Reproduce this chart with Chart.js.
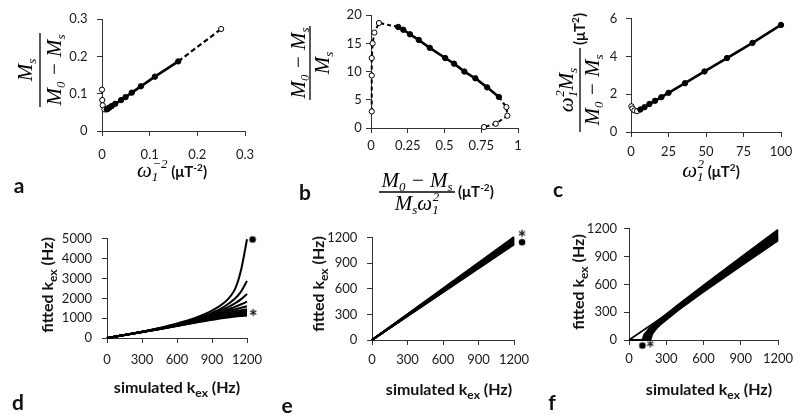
<!DOCTYPE html>
<html><head><meta charset="utf-8">
<script src="https://cdn.jsdelivr.net/npm/chart.js@4"></script>
<style>
html,body{margin:0;padding:0;background:#fff;width:800px;height:417px;overflow:hidden}
body{position:relative}
canvas{position:absolute}
svg{position:absolute;left:0;top:0}
.m{font-family:'Liberation Serif',serif;font-style:italic;font-size:21px;fill:#000}
.ms{font-family:'Liberation Serif',serif;font-style:italic;font-size:13px}
.bs{font-family:Lato,sans-serif;font-weight:bold;font-size:15px;fill:#111}
.bt{font-family:Lato,sans-serif;font-weight:bold;font-size:16px;fill:#111}
.lt{font-family:Lato,sans-serif;font-weight:bold;font-size:21px;fill:#111}
</style></head><body>
<canvas id="ca"></canvas><canvas id="cb"></canvas><canvas id="cc"></canvas>
<canvas id="cd"></canvas><canvas id="ce"></canvas><canvas id="cf"></canvas>
<svg width="800" height="417" viewBox="0 0 800 417">
  <!-- panel letters -->
  <text class="lt" x="19" y="193" text-anchor="middle">a</text>
  <text class="lt" x="305" y="200" text-anchor="middle">b</text>
  <text class="lt" x="558" y="197" text-anchor="middle">c</text>
  <text class="lt" x="18" y="410" text-anchor="middle">d</text>
  <text class="lt" x="287" y="413" text-anchor="middle">e</text>
  <text class="lt" x="552" y="410" text-anchor="middle">f</text>

  <!-- a y title -->
  <g transform="translate(40,70) rotate(-90)">
    <text class="m" x="0" y="-8" text-anchor="middle">M<tspan class="ms" dy="4">s</tspan></text>
    <line x1="-37" x2="37" y1="0" y2="0" stroke="#000" stroke-width="1.3"/>
    <text class="m" x="0" y="21" text-anchor="middle">M<tspan class="ms" dy="4">0</tspan><tspan dy="-4"> − M</tspan><tspan class="ms" dy="4">s</tspan></text>
  </g>
  <!-- a x title -->
  <text x="172" y="177" text-anchor="middle"><tspan class="m">ω</tspan><tspan class="ms" dy="4">1</tspan><tspan class="ms" dx="-6" dy="-13">−2</tspan><tspan class="bs" dy="9"> (μT</tspan><tspan class="bs" style="font-size:10px" dy="-6">-2</tspan><tspan class="bs" dy="6">)</tspan></text>

  <!-- b y title -->
  <g transform="translate(310,63) rotate(-90)">
    <text class="m" x="0" y="-5" text-anchor="middle">M<tspan class="ms" dy="4">0</tspan><tspan dy="-4"> − M</tspan><tspan class="ms" dy="4">s</tspan></text>
    <line x1="-37" x2="37" y1="0" y2="0" stroke="#000" stroke-width="1.3"/>
    <text class="m" x="0" y="19" text-anchor="middle">M<tspan class="ms" dy="4">s</tspan></text>
  </g>
  <!-- b x title -->
  <text class="m" x="417" y="187" text-anchor="middle">M<tspan class="ms" dy="4">0</tspan><tspan dy="-4"> − M</tspan><tspan class="ms" dy="4">s</tspan></text>
  <line x1="379" x2="455" y1="192" y2="192" stroke="#000" stroke-width="1.3"/>
  <text class="m" x="417" y="210" text-anchor="middle">M<tspan class="ms" dy="4">s</tspan><tspan dy="-4">ω</tspan><tspan class="ms" dy="4">1</tspan><tspan class="ms" dx="-6" dy="-13">2</tspan></text>
  <text x="458" y="197"><tspan class="bs">(μT</tspan><tspan class="bs" style="font-size:10px" dy="-6">-2</tspan><tspan class="bs" dy="6">)</tspan></text>

  <!-- c y title -->
  <g transform="translate(580,74) rotate(-90)">
    <text class="m" x="-16" y="-7" text-anchor="middle">ω<tspan class="ms" dy="4">1</tspan><tspan class="ms" dx="-6" dy="-13">2</tspan><tspan dy="9">M</tspan><tspan class="ms" dy="4">s</tspan></text>
    <line x1="-58" x2="26" y1="0" y2="0" stroke="#000" stroke-width="1.3"/>
    <text class="m" x="-16" y="19" text-anchor="middle">M<tspan class="ms" dy="4">0</tspan><tspan dy="-4"> − M</tspan><tspan class="ms" dy="4">s</tspan></text>
    <text x="45" y="5" text-anchor="middle"><tspan class="bs">(μT</tspan><tspan class="bs" style="font-size:10px" dy="-6">2</tspan><tspan class="bs" dy="6">)</tspan></text>
  </g>
  <!-- c x title -->
  <text x="711" y="177" text-anchor="middle"><tspan class="m">ω</tspan><tspan class="ms" dy="4">1</tspan><tspan class="ms" dx="-6" dy="-13">2</tspan><tspan class="bs" dy="9"> (μT</tspan><tspan class="bs" style="font-size:10px" dy="-6">2</tspan><tspan class="bs" dy="6">)</tspan></text>

  <!-- bottom row titles -->
  <text class="bt" x="177" y="393" text-anchor="middle">simulated k<tspan style="font-size:12px" dy="4">ex</tspan><tspan dy="-4"> (Hz)</tspan></text>
  <text class="bt" x="449" y="395" text-anchor="middle">simulated k<tspan style="font-size:12px" dy="4">ex</tspan><tspan dy="-4"> (Hz)</tspan></text>
  <text class="bt" x="709" y="395" text-anchor="middle">simulated k<tspan style="font-size:12px" dy="4">ex</tspan><tspan dy="-4"> (Hz)</tspan></text>
  <text class="bt" transform="translate(53,285) rotate(-90)" text-anchor="middle">fitted k<tspan style="font-size:12px" dy="4">ex</tspan><tspan dy="-4"> (Hz)</tspan></text>
  <text class="bt" transform="translate(324,284) rotate(-90)" text-anchor="middle">fitted k<tspan style="font-size:12px" dy="4">ex</tspan><tspan dy="-4"> (Hz)</tspan></text>
  <text class="bt" transform="translate(584,282) rotate(-90)" text-anchor="middle">fitted k<tspan style="font-size:12px" dy="4">ex</tspan><tspan dy="-4"> (Hz)</tspan></text>
</svg>
<script>
// ---------- DATA ----------
// panel a : Ms/(M0-Ms) vs omega1^-2
const aXTicks = [0, 0.1, 0.2, 0.3], aXLabels = ['0', '0.1', '0.2', '0.3'];
const aYTicks = [0, 0.1, 0.2, 0.3], aYLabels = ['0', '0.1', '0.2', '0.3'];
const aFillX = [0.01, 0.0123, 0.0156, 0.0204, 0.0278, 0.04, 0.0494, 0.0625, 0.0816, 0.111, 0.16];
const aFillY = [0.058, 0.060, 0.063, 0.067, 0.073, 0.083, 0.091, 0.103, 0.120, 0.146, 0.187];
const aOpenX = [0, 0.0005, 0.0015, 0.005, 0.25];
const aOpenY = [0.111, 0.083, 0.069, 0.058, 0.274];

// panel b : (M0-Ms)/Ms vs (M0-Ms)/(Ms omega1^2)
const bXTicks = [0, 0.25, 0.5, 0.75, 1], bXLabels = ['0', '0.25', '0.5', '0.75', '1'];
const bYTicks = [0, 5, 10, 15, 20], bYLabels = ['0', '5', '10', '15', '20'];
const bFillX = [0.185, 0.22, 0.265, 0.325, 0.40, 0.505, 0.565, 0.635, 0.71, 0.79, 0.87];
const bFillY = [17.9, 17.4, 16.6, 15.6, 14.2, 12.4, 11.4, 10.0, 8.8, 7.2, 5.5];
const bOpenX = [0.005, 0.005, 0.005, 0.011, 0.023, 0.054, 0.921, 0.928, 0.849, 0.769];
const bOpenY = [2.93, 9.3, 12.4, 15.0, 16.9, 18.6, 3.7, 2.17, 0.76, 0.17];

// panel c : omega1^2 Ms/(M0-Ms) vs omega1^2
const cXTicks = [0, 25, 50, 75, 100], cXLabels = ['0', '25', '50', '75', '100'];
const cYTicks = [0, 2, 4, 6], cYLabels = ['0', '2', '4', '6'];
const cFillX = [6.25, 9, 12.25, 16, 20.25, 25, 36, 49, 64, 81, 100];
const cFillY = [1.19, 1.31, 1.48, 1.65, 1.84, 2.07, 2.58, 3.2, 3.91, 4.71, 5.66];
const cOpenX = [0.25, 1, 2.25, 4];
const cOpenY = [1.36, 1.24, 1.14, 1.10];

// bottom row ticks
const kXTicks = [0, 300, 600, 900, 1200], kXLabels = ['0', '300', '600', '900', '1200'];
const dYTicks = [0, 1000, 2000, 3000, 4000, 5000], dYLabels = ['0', '1000', '2000', '3000', '4000', '5000'];
const efYTicks = [0, 300, 600, 900, 1200], efYLabels = ['0', '300', '600', '900', '1200'];

// panel d : fitted vs simulated kex
const dX = [0, 150, 300, 450, 600, 750, 900, 1000, 1100, 1150, 1200];
const dCurves = [
  [0, 150, 320, 510, 730, 1000, 1380, 1760, 2500, 3450, 4980],
  [0, 150, 315, 495, 700, 950, 1270, 1560, 2000, 2350, 2880],
  [0, 150, 312, 485, 685, 915, 1200, 1440, 1760, 1960, 2220],
  [0, 150, 310, 478, 670, 885, 1140, 1340, 1580, 1700, 1830],
  [0, 150, 308, 472, 658, 860, 1090, 1265, 1450, 1525, 1600],
  [0, 150, 306, 467, 648, 840, 1050, 1200, 1350, 1400, 1450],
  [0, 150, 304, 462, 638, 822, 1015, 1150, 1275, 1320, 1360],
  [0, 150, 302, 458, 630, 807, 985, 1105, 1215, 1255, 1290],
  [0, 150, 300, 454, 622, 793, 960, 1070, 1165, 1200, 1230],
  [0, 148, 298, 450, 615, 780, 938, 1040, 1125, 1155, 1180],
  [0, 147, 295, 445, 607, 765, 915, 1010, 1085, 1110, 1130]
];
const dDot = [1248, 4967], dStar = [1254, 1267];

// panel e
const eX = [0, 1200];
const eEnd = [1205, 1195, 1186, 1177, 1168, 1159, 1150, 1141, 1132, 1124, 1118];
const eDot = [1268, 1144], eStar = [1268, 1244];

// panel f
const fXs = [
  [0, 108, 123, 158, 250, 400, 600, 900, 1200],
  [0, 115, 130, 165, 250, 400, 600, 900, 1200],
  [0, 122, 137, 172, 250, 400, 600, 900, 1200],
  [0, 129, 144, 179, 250, 400, 600, 900, 1200],
  [0, 136, 151, 186, 250, 400, 600, 900, 1200],
  [0, 143, 158, 193, 250, 400, 600, 900, 1200],
  [0, 150, 165, 200, 250, 400, 600, 900, 1200],
  [0, 157, 172, 207, 250, 400, 600, 900, 1200],
  [0, 164, 179, 214, 250, 400, 600, 900, 1200],
  [0, 172, 187, 222, 250, 400, 600, 900, 1200],
  [0, 1200]
];
const fYs = [
  [0, 0, 58.6, 114.7, 224.4, 383.2, 587.2, 889.0, 1189.1],
  [0, 0, 59.7, 116.5, 218.7, 377.4, 580.0, 879.2, 1176.6],
  [0, 0, 60.8, 118.2, 212.8, 371.4, 572.8, 869.4, 1163.9],
  [0, 0, 61.8, 119.8, 206.6, 365.4, 565.5, 859.5, 1151.3],
  [0, 0, 62.7, 121.2, 200.3, 359.2, 558.1, 849.6, 1138.6],
  [0, 0, 63.5, 122.5, 193.8, 353.0, 550.7, 839.7, 1125.9],
  [0, 0, 64.3, 123.7, 187.0, 346.7, 543.2, 829.7, 1113.2],
  [0, 0, 65.0, 124.8, 180.0, 340.3, 535.7, 819.7, 1100.5],
  [0, 0, 65.6, 125.8, 172.7, 333.8, 528.1, 809.7, 1087.7],
  [0, 0, 66.4, 127.0, 164.2, 326.8, 520.2, 799.5, 1074.8],
  [0, 1095]
];
const fDot = [108, -60], fStar = [172, -45];

// ---------- HELPERS ----------
Chart.defaults.font.family = 'Lato';
const pts = (xs, ys) => xs.map((x, i) => ({x: x, y: ys[i]}));

function line(xs, ys, opt) {
  opt = opt || {};
  return {data: pts(xs, ys), showLine: true, borderColor: '#000', borderWidth: opt.w || 2.5,
    borderDash: opt.dash || [], pointRadius: 0, fill: false, clip: false, order: 2,
    borderJoinStyle: 'round', cubicInterpolationMode: opt.mono ? 'monotone' : 'default'};
}
function marks(xs, ys, open) {
  return {data: pts(xs, ys), showLine: false, pointRadius: open ? 2.6 : 2.7,
    pointBackgroundColor: open ? '#fff' : '#000', pointBorderColor: '#000',
    pointBorderWidth: 1, clip: false, order: 0};
}
const starImg = (function () {
  const c = document.createElement('canvas'); c.width = 16; c.height = 16;
  const g = c.getContext('2d');
  g.font = 'bold 21px Lato'; g.fillStyle = '#111'; g.textAlign = 'center'; g.textBaseline = 'alphabetic';
  const m = g.measureText('*');
  g.fillText('*', 8, 8 + m.actualBoundingBoxAscent - (m.actualBoundingBoxAscent + m.actualBoundingBoxDescent) / 2);
  return c;
})();
const dotImg = (function () {
  const c = document.createElement('canvas'); c.width = 10; c.height = 10;
  const g = c.getContext('2d');
  g.fillStyle = '#000'; g.beginPath(); g.arc(5, 5, 3.3, 0, Math.PI * 2); g.fill();
  return c;
})();
function star(p) {
  return {data: [{x: p[0], y: p[1]}], showLine: false, pointStyle: starImg, pointRadius: 9, clip: false, order: 0};
}
function dot(p) {
  return {data: [{x: p[0], y: p[1]}], showLine: false, pointStyle: dotImg, pointRadius: 9, clip: false, order: 0};
}

function axis(ticks, labels, pad, dir, size) {
  return {
    type: 'linear', min: ticks[0], max: ticks[ticks.length - 1],
    afterBuildTicks: s => { s.ticks = ticks.map(v => ({value: v})); },
    afterFit: s => { if (dir === 'x') s.height = size; else s.width = size; },
    ticks: {autoSkip: false, maxRotation: 0, minRotation: 0, padding: pad, color: '#1a1a1a',
      font: {family: 'Lato', size: 13}, callback: v => labels[ticks.indexOf(v)]},
    grid: {drawOnChartArea: false, drawTicks: true, tickLength: 5, color: '#333', lineWidth: 1},
    border: {display: true, color: '#333', width: 1}
  };
}

function panel(id, area, xT, xL, yT, yL, padX, padY, datasets, R) {
  const Wy = 60, T = 12, Hx = 40;
  R = R || 30;
  const cv = document.getElementById(id);
  cv.width = area[2] - area[0] + Wy + R;
  cv.height = area[3] - area[1] + T + Hx;
  cv.style.left = (area[0] - Wy) + 'px';
  cv.style.top = (area[1] - T) + 'px';
  new Chart(cv, {
    type: 'scatter', data: {datasets: datasets},
    options: {
      responsive: false, animation: false, events: [],
      layout: {padding: {left: 0, top: T, right: R, bottom: 0}},
      plugins: {legend: {display: false}, tooltip: {enabled: false}},
      scales: {x: axis(xT, xL, padX, 'x', Hx), y: axis(yT, yL, padY, 'y', Wy)}
    }
  });
}

// ---------- PANELS ----------
// a
panel('ca', [102, 14, 245, 131], aXTicks, aXLabels, aYTicks, aYLabels, 11, 9.5, [
  marks(aFillX, aFillY, false),
  marks(aOpenX, aOpenY, true),
  line(aFillX, aFillY, {w: 2.6}),
  line(aOpenX.slice(0, 4).concat([aFillX[0]]), aOpenY.slice(0, 4).concat([aFillY[0]]), {w: 2, dash: [4, 3]}),
  line([aFillX[aFillX.length - 1], aOpenX[4]], [aFillY[aFillY.length - 1], aOpenY[4]], {w: 2.2, dash: [5, 3]})
]);
// b
panel('cb', [371, 15, 518, 128], bXTicks, bXLabels, bYTicks, bYLabels, 5.5, 4.3, [
  marks(bFillX, bFillY, false),
  marks(bOpenX, bOpenY, true),
  line(bFillX, bFillY, {w: 2.6}),
  line(bOpenX.slice(0, 6).concat([bFillX[0]]), bOpenY.slice(0, 6).concat([bFillY[0]]), {w: 2, dash: [4, 3]}),
  line([bFillX[bFillX.length - 1]].concat(bOpenX.slice(6)), [bFillY[bFillY.length - 1]].concat(bOpenY.slice(6)), {w: 2, dash: [4, 3]})
]);
// c
panel('cc', [631, 14, 781, 132], cXTicks, cXLabels, cYTicks, cYLabels, 7, 8.7, [
  marks(cFillX, cFillY, false),
  marks(cOpenX, cOpenY, true),
  line(cFillX, cFillY, {w: 2.6}),
  line(cOpenX.concat([cFillX[0]]), cOpenY.concat([cFillY[0]]), {w: 2, dash: [3, 2]})
], 19);
// d
panel('cd', [107, 233, 247, 338], kXTicks, kXLabels, dYTicks, dYLabels, 9, 10, 
  dCurves.map(ys => line(dX, ys, {w: 2, mono: true})).concat([dot(dDot), star(dStar)]));
// e
panel('ce', [372, 232, 514, 340], kXTicks, kXLabels, efYTicks, efYLabels, 7.5, 9.6,
  eEnd.map(E => line(eX, [0, E], {w: 2})).concat([dot(eDot), star(eStar)]));
// f
panel('cf', [629, 226, 778, 340], kXTicks, kXLabels, efYTicks, efYLabels, 6.5, 7,
  fXs.map((xs, i) => line(xs, fYs[i], {w: i === fXs.length - 1 ? 1.6 : 2})).concat([dot(fDot), star(fStar)]));
</script>
</body></html>
